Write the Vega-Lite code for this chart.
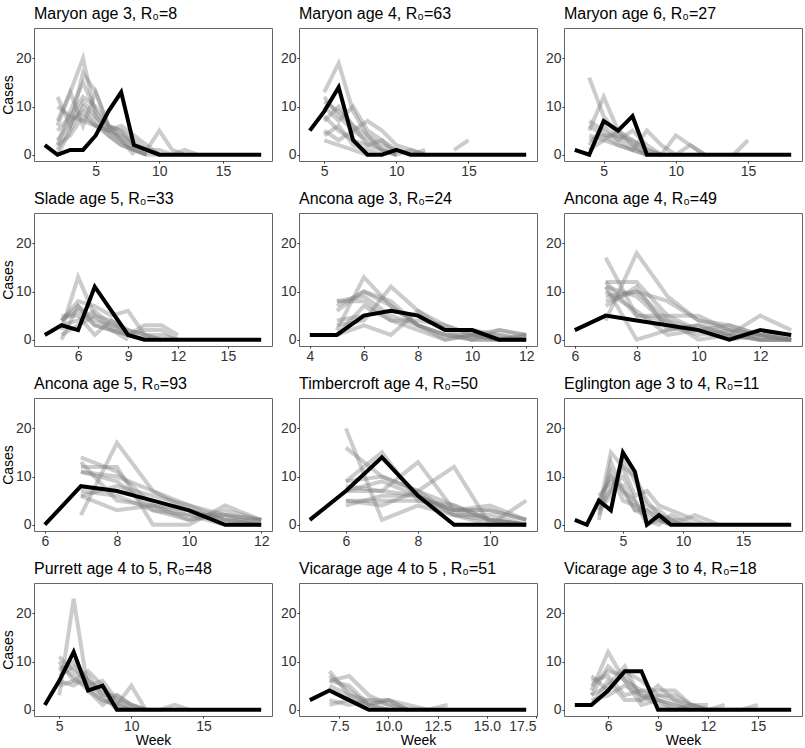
{
"$schema":"https://vega.github.io/schema/vega-lite/v6.json",
"padding":{"left":0,"top":5,"right":0,"bottom":0},
"datasets":{"d":[
{"p":1,"s":"o","w":1,"c":2},{"p":1,"s":"o","w":2,"c":0},{"p":1,"s":"o","w":3,"c":1},{"p":1,"s":"o","w":4,"c":1},{"p":1,"s":"o","w":5,"c":4},{"p":1,"s":"o","w":6,"c":9},{"p":1,"s":"o","w":7,"c":13},{"p":1,"s":"o","w":8,"c":2},{"p":1,"s":"o","w":9,"c":1},{"p":1,"s":"o","w":10,"c":0},{"p":1,"s":"o","w":11,"c":0},{"p":1,"s":"o","w":12,"c":0},{"p":1,"s":"o","w":13,"c":0},{"p":1,"s":"o","w":14,"c":0},{"p":1,"s":"o","w":15,"c":0},{"p":1,"s":"o","w":16,"c":0},{"p":1,"s":"o","w":17,"c":0},{"p":1,"s":"o","w":18,"c":0},
{"p":1,"s":"1","w":2,"c":7},{"p":1,"s":"1","w":3,"c":13},{"p":1,"s":"1","w":4,"c":20},{"p":1,"s":"1","w":5,"c":8},{"p":1,"s":"1","w":6,"c":5},{"p":1,"s":"1","w":7,"c":3},{"p":1,"s":"1","w":8,"c":1},{"p":1,"s":"1","w":9,"c":0},
{"p":1,"s":"2","w":2,"c":12},{"p":1,"s":"2","w":3,"c":6},{"p":1,"s":"2","w":4,"c":17},{"p":1,"s":"2","w":5,"c":13},{"p":1,"s":"2","w":6,"c":6},{"p":1,"s":"2","w":7,"c":4},{"p":1,"s":"2","w":8,"c":2},{"p":1,"s":"2","w":9,"c":1},{"p":1,"s":"2","w":10,"c":0},
{"p":1,"s":"3","w":2,"c":2},{"p":1,"s":"3","w":3,"c":9},{"p":1,"s":"3","w":4,"c":15},{"p":1,"s":"3","w":5,"c":9},{"p":1,"s":"3","w":6,"c":6},{"p":1,"s":"3","w":7,"c":5},{"p":1,"s":"3","w":8,"c":2},{"p":1,"s":"3","w":9,"c":1},{"p":1,"s":"3","w":10,"c":5},{"p":1,"s":"3","w":11,"c":1},{"p":1,"s":"3","w":12,"c":0},
{"p":1,"s":"4","w":2,"c":1},{"p":1,"s":"4","w":3,"c":6},{"p":1,"s":"4","w":4,"c":11},{"p":1,"s":"4","w":5,"c":8},{"p":1,"s":"4","w":6,"c":5},{"p":1,"s":"4","w":7,"c":3},{"p":1,"s":"4","w":8,"c":1},{"p":1,"s":"4","w":9,"c":0},
{"p":1,"s":"5","w":2,"c":0},{"p":1,"s":"5","w":3,"c":5},{"p":1,"s":"5","w":4,"c":10},{"p":1,"s":"5","w":5,"c":7},{"p":1,"s":"5","w":6,"c":4},{"p":1,"s":"5","w":7,"c":2},{"p":1,"s":"5","w":8,"c":1},{"p":1,"s":"5","w":9,"c":0},
{"p":1,"s":"6","w":2,"c":10},{"p":1,"s":"6","w":3,"c":8},{"p":1,"s":"6","w":4,"c":7},{"p":1,"s":"6","w":5,"c":6},{"p":1,"s":"6","w":6,"c":5},{"p":1,"s":"6","w":7,"c":6},{"p":1,"s":"6","w":8,"c":4},{"p":1,"s":"6","w":9,"c":2},{"p":1,"s":"6","w":10,"c":0},
{"p":1,"s":"7","w":2,"c":3},{"p":1,"s":"7","w":3,"c":7},{"p":1,"s":"7","w":4,"c":9},{"p":1,"s":"7","w":5,"c":6},{"p":1,"s":"7","w":6,"c":5},{"p":1,"s":"7","w":7,"c":4},{"p":1,"s":"7","w":8,"c":2},{"p":1,"s":"7","w":9,"c":1},{"p":1,"s":"7","w":10,"c":1},{"p":1,"s":"7","w":11,"c":0},{"p":1,"s":"7","w":12,"c":1},{"p":1,"s":"7","w":13,"c":0},
{"p":1,"s":"8","w":2,"c":5},{"p":1,"s":"8","w":3,"c":8},{"p":1,"s":"8","w":4,"c":12},{"p":1,"s":"8","w":5,"c":10},{"p":1,"s":"8","w":6,"c":6},{"p":1,"s":"8","w":7,"c":3},{"p":1,"s":"8","w":8,"c":0},
{"p":1,"s":"9","w":2,"c":2},{"p":1,"s":"9","w":3,"c":4},{"p":1,"s":"9","w":4,"c":8},{"p":1,"s":"9","w":5,"c":6},{"p":1,"s":"9","w":6,"c":4},{"p":1,"s":"9","w":7,"c":2},{"p":1,"s":"9","w":8,"c":1},{"p":1,"s":"9","w":9,"c":0},{"p":1,"s":"9","w":10,"c":0},
{"p":1,"s":"10","w":2,"c":6},{"p":1,"s":"10","w":3,"c":13},{"p":1,"s":"10","w":4,"c":6},{"p":1,"s":"10","w":5,"c":13},{"p":1,"s":"10","w":6,"c":6},{"p":1,"s":"10","w":7,"c":5},{"p":1,"s":"10","w":8,"c":3},{"p":1,"s":"10","w":9,"c":1},{"p":1,"s":"10","w":10,"c":0},

{"p":2,"s":"o","w":4,"c":5},{"p":2,"s":"o","w":5,"c":9},{"p":2,"s":"o","w":6,"c":14},{"p":2,"s":"o","w":7,"c":3},{"p":2,"s":"o","w":8,"c":0},{"p":2,"s":"o","w":9,"c":0},{"p":2,"s":"o","w":10,"c":1},{"p":2,"s":"o","w":11,"c":0},{"p":2,"s":"o","w":12,"c":0},{"p":2,"s":"o","w":13,"c":0},{"p":2,"s":"o","w":14,"c":0},{"p":2,"s":"o","w":15,"c":0},{"p":2,"s":"o","w":16,"c":0},{"p":2,"s":"o","w":17,"c":0},{"p":2,"s":"o","w":18,"c":0},{"p":2,"s":"o","w":19,"c":0},
{"p":2,"s":"1","w":5,"c":13},{"p":2,"s":"1","w":6,"c":19},{"p":2,"s":"1","w":7,"c":9},{"p":2,"s":"1","w":8,"c":4},{"p":2,"s":"1","w":9,"c":1},{"p":2,"s":"1","w":10,"c":0},
{"p":2,"s":"2","w":5,"c":12},{"p":2,"s":"2","w":6,"c":8},{"p":2,"s":"2","w":7,"c":5},{"p":2,"s":"2","w":8,"c":3},{"p":2,"s":"2","w":9,"c":1},{"p":2,"s":"2","w":10,"c":0},
{"p":2,"s":"3","w":5,"c":10},{"p":2,"s":"3","w":6,"c":7},{"p":2,"s":"3","w":7,"c":10},{"p":2,"s":"3","w":8,"c":5},{"p":2,"s":"3","w":9,"c":3},{"p":2,"s":"3","w":10,"c":1},{"p":2,"s":"3","w":11,"c":0},
{"p":2,"s":"4","w":5,"c":5},{"p":2,"s":"4","w":6,"c":3},{"p":2,"s":"4","w":7,"c":5},{"p":2,"s":"4","w":8,"c":7},{"p":2,"s":"4","w":9,"c":5},{"p":2,"s":"4","w":10,"c":2},{"p":2,"s":"4","w":11,"c":1},{"p":2,"s":"4","w":12,"c":0},
{"p":2,"s":"5","w":5,"c":8},{"p":2,"s":"5","w":6,"c":5},{"p":2,"s":"5","w":7,"c":3},{"p":2,"s":"5","w":8,"c":2},{"p":2,"s":"5","w":9,"c":1},{"p":2,"s":"5","w":10,"c":0},
{"p":2,"s":"6","w":5,"c":4},{"p":2,"s":"6","w":6,"c":6},{"p":2,"s":"6","w":7,"c":2},{"p":2,"s":"6","w":8,"c":1},{"p":2,"s":"6","w":9,"c":0},
{"p":2,"s":"7","w":5,"c":11},{"p":2,"s":"7","w":6,"c":9},{"p":2,"s":"7","w":7,"c":6},{"p":2,"s":"7","w":8,"c":4},{"p":2,"s":"7","w":9,"c":2},{"p":2,"s":"7","w":10,"c":1},{"p":2,"s":"7","w":11,"c":0},{"p":2,"s":"7","w":12,"c":1},
{"p":2,"s":"8","w":5,"c":3},{"p":2,"s":"8","w":6,"c":2},{"p":2,"s":"8","w":7,"c":1},{"p":2,"s":"8","w":8,"c":0},
{"p":2,"s":"9","w":5,"c":7},{"p":2,"s":"9","w":6,"c":10},{"p":2,"s":"9","w":7,"c":6},{"p":2,"s":"9","w":8,"c":2},{"p":2,"s":"9","w":9,"c":3},{"p":2,"s":"9","w":10,"c":0},{"p":2,"s":"9","w":11,"c":1},{"p":2,"s":"9","w":12,"c":0},
{"p":2,"s":"10","w":14,"c":1},{"p":2,"s":"10","w":15,"c":3},

{"p":3,"s":"o","w":3,"c":1},{"p":3,"s":"o","w":4,"c":0},{"p":3,"s":"o","w":5,"c":7},{"p":3,"s":"o","w":6,"c":5},{"p":3,"s":"o","w":7,"c":8},{"p":3,"s":"o","w":8,"c":0},{"p":3,"s":"o","w":9,"c":0},{"p":3,"s":"o","w":10,"c":0},{"p":3,"s":"o","w":11,"c":0},{"p":3,"s":"o","w":12,"c":0},{"p":3,"s":"o","w":13,"c":0},{"p":3,"s":"o","w":14,"c":0},{"p":3,"s":"o","w":15,"c":0},{"p":3,"s":"o","w":16,"c":0},{"p":3,"s":"o","w":17,"c":0},{"p":3,"s":"o","w":18,"c":0},
{"p":3,"s":"1","w":4,"c":16},{"p":3,"s":"1","w":5,"c":8},{"p":3,"s":"1","w":6,"c":4},{"p":3,"s":"1","w":7,"c":2},{"p":3,"s":"1","w":8,"c":0},
{"p":3,"s":"2","w":4,"c":5},{"p":3,"s":"2","w":5,"c":12},{"p":3,"s":"2","w":6,"c":5},{"p":3,"s":"2","w":7,"c":3},{"p":3,"s":"2","w":8,"c":1},{"p":3,"s":"2","w":9,"c":0},
{"p":3,"s":"3","w":4,"c":7},{"p":3,"s":"3","w":5,"c":5},{"p":3,"s":"3","w":6,"c":3},{"p":3,"s":"3","w":7,"c":5},{"p":3,"s":"3","w":8,"c":2},{"p":3,"s":"3","w":9,"c":0},
{"p":3,"s":"4","w":4,"c":3},{"p":3,"s":"4","w":5,"c":4},{"p":3,"s":"4","w":6,"c":2},{"p":3,"s":"4","w":7,"c":1},{"p":3,"s":"4","w":8,"c":0},
{"p":3,"s":"5","w":4,"c":2},{"p":3,"s":"5","w":5,"c":6},{"p":3,"s":"5","w":6,"c":3},{"p":3,"s":"5","w":7,"c":1},{"p":3,"s":"5","w":8,"c":5},{"p":3,"s":"5","w":9,"c":2},{"p":3,"s":"5","w":10,"c":0},
{"p":3,"s":"6","w":4,"c":4},{"p":3,"s":"6","w":5,"c":3},{"p":3,"s":"6","w":6,"c":2},{"p":3,"s":"6","w":7,"c":1},{"p":3,"s":"6","w":8,"c":0},
{"p":3,"s":"7","w":4,"c":6},{"p":3,"s":"7","w":5,"c":4},{"p":3,"s":"7","w":6,"c":4},{"p":3,"s":"7","w":7,"c":3},{"p":3,"s":"7","w":8,"c":1},{"p":3,"s":"7","w":9,"c":0},{"p":3,"s":"7","w":10,"c":4},{"p":3,"s":"7","w":11,"c":2},{"p":3,"s":"7","w":12,"c":0},
{"p":3,"s":"8","w":4,"c":1},{"p":3,"s":"8","w":5,"c":3},{"p":3,"s":"8","w":6,"c":5},{"p":3,"s":"8","w":7,"c":2},{"p":3,"s":"8","w":8,"c":0},{"p":3,"s":"8","w":9,"c":0},{"p":3,"s":"8","w":10,"c":0},{"p":3,"s":"8","w":11,"c":2},{"p":3,"s":"8","w":12,"c":0},
{"p":3,"s":"9","w":14,"c":0},{"p":3,"s":"9","w":15,"c":3},

{"p":4,"s":"o","w":4,"c":1},{"p":4,"s":"o","w":5,"c":3},{"p":4,"s":"o","w":6,"c":2},{"p":4,"s":"o","w":7,"c":11},{"p":4,"s":"o","w":8,"c":6},{"p":4,"s":"o","w":9,"c":1},{"p":4,"s":"o","w":10,"c":0},{"p":4,"s":"o","w":11,"c":0},{"p":4,"s":"o","w":12,"c":0},{"p":4,"s":"o","w":13,"c":0},{"p":4,"s":"o","w":14,"c":0},{"p":4,"s":"o","w":15,"c":0},{"p":4,"s":"o","w":16,"c":0},{"p":4,"s":"o","w":17,"c":0},
{"p":4,"s":"1","w":5,"c":2},{"p":4,"s":"1","w":6,"c":13},{"p":4,"s":"1","w":7,"c":5},{"p":4,"s":"1","w":8,"c":4},{"p":4,"s":"1","w":9,"c":1},{"p":4,"s":"1","w":10,"c":0},
{"p":4,"s":"2","w":5,"c":4},{"p":4,"s":"2","w":6,"c":8},{"p":4,"s":"2","w":7,"c":7},{"p":4,"s":"2","w":8,"c":5},{"p":4,"s":"2","w":9,"c":6},{"p":4,"s":"2","w":10,"c":1},{"p":4,"s":"2","w":11,"c":0},
{"p":4,"s":"3","w":5,"c":0},{"p":4,"s":"3","w":6,"c":7},{"p":4,"s":"3","w":7,"c":3},{"p":4,"s":"3","w":8,"c":2},{"p":4,"s":"3","w":9,"c":1},{"p":4,"s":"3","w":10,"c":3},{"p":4,"s":"3","w":11,"c":3},{"p":4,"s":"3","w":12,"c":1},
{"p":4,"s":"4","w":5,"c":5},{"p":4,"s":"4","w":6,"c":5},{"p":4,"s":"4","w":7,"c":1},{"p":4,"s":"4","w":8,"c":4},{"p":4,"s":"4","w":9,"c":2},{"p":4,"s":"4","w":10,"c":1},{"p":4,"s":"4","w":11,"c":1},{"p":4,"s":"4","w":12,"c":0},
{"p":4,"s":"5","w":5,"c":3},{"p":4,"s":"5","w":6,"c":4},{"p":4,"s":"5","w":7,"c":6},{"p":4,"s":"5","w":8,"c":3},{"p":4,"s":"5","w":9,"c":1},{"p":4,"s":"5","w":10,"c":0},
{"p":4,"s":"6","w":5,"c":4},{"p":4,"s":"6","w":6,"c":6},{"p":4,"s":"6","w":7,"c":3},{"p":4,"s":"6","w":8,"c":2},{"p":4,"s":"6","w":9,"c":0},
{"p":4,"s":"7","w":5,"c":1},{"p":4,"s":"7","w":6,"c":3},{"p":4,"s":"7","w":7,"c":5},{"p":4,"s":"7","w":8,"c":2},{"p":4,"s":"7","w":9,"c":1},{"p":4,"s":"7","w":10,"c":2},{"p":4,"s":"7","w":11,"c":2},{"p":4,"s":"7","w":12,"c":0},
{"p":4,"s":"8","w":5,"c":4},{"p":4,"s":"8","w":6,"c":7},{"p":4,"s":"8","w":7,"c":4},{"p":4,"s":"8","w":8,"c":3},{"p":4,"s":"8","w":9,"c":2},{"p":4,"s":"8","w":10,"c":1},{"p":4,"s":"8","w":11,"c":0},

{"p":5,"s":"o","w":4,"c":1},{"p":5,"s":"o","w":5,"c":1},{"p":5,"s":"o","w":6,"c":5},{"p":5,"s":"o","w":7,"c":6},{"p":5,"s":"o","w":8,"c":5},{"p":5,"s":"o","w":9,"c":2},{"p":5,"s":"o","w":10,"c":2},{"p":5,"s":"o","w":11,"c":0},{"p":5,"s":"o","w":12,"c":0},
{"p":5,"s":"1","w":5,"c":2},{"p":5,"s":"1","w":6,"c":13},{"p":5,"s":"1","w":7,"c":7},{"p":5,"s":"1","w":8,"c":3},{"p":5,"s":"1","w":9,"c":1},{"p":5,"s":"1","w":10,"c":1},{"p":5,"s":"1","w":11,"c":0},{"p":5,"s":"1","w":12,"c":1},
{"p":5,"s":"2","w":5,"c":7},{"p":5,"s":"2","w":6,"c":10},{"p":5,"s":"2","w":7,"c":8},{"p":5,"s":"2","w":8,"c":3},{"p":5,"s":"2","w":9,"c":1},{"p":5,"s":"2","w":10,"c":0},{"p":5,"s":"2","w":11,"c":0},{"p":5,"s":"2","w":12,"c":0},
{"p":5,"s":"3","w":5,"c":3},{"p":5,"s":"3","w":6,"c":4},{"p":5,"s":"3","w":7,"c":11},{"p":5,"s":"3","w":8,"c":6},{"p":5,"s":"3","w":9,"c":2},{"p":5,"s":"3","w":10,"c":2},{"p":5,"s":"3","w":11,"c":1},{"p":5,"s":"3","w":12,"c":0},
{"p":5,"s":"4","w":5,"c":1},{"p":5,"s":"4","w":6,"c":3},{"p":5,"s":"4","w":7,"c":1},{"p":5,"s":"4","w":8,"c":6},{"p":5,"s":"4","w":9,"c":3},{"p":5,"s":"4","w":10,"c":1},{"p":5,"s":"4","w":11,"c":2},{"p":5,"s":"4","w":12,"c":1},
{"p":5,"s":"5","w":5,"c":8},{"p":5,"s":"5","w":6,"c":9},{"p":5,"s":"5","w":7,"c":5},{"p":5,"s":"5","w":8,"c":3},{"p":5,"s":"5","w":9,"c":1},{"p":5,"s":"5","w":10,"c":0},{"p":5,"s":"5","w":11,"c":2},{"p":5,"s":"5","w":12,"c":1},
{"p":5,"s":"6","w":5,"c":1},{"p":5,"s":"6","w":6,"c":7},{"p":5,"s":"6","w":7,"c":4},{"p":5,"s":"6","w":8,"c":2},{"p":5,"s":"6","w":9,"c":0},{"p":5,"s":"6","w":10,"c":1},{"p":5,"s":"6","w":11,"c":0},{"p":5,"s":"6","w":12,"c":0},
{"p":5,"s":"7","w":5,"c":4},{"p":5,"s":"7","w":6,"c":5},{"p":5,"s":"7","w":7,"c":6},{"p":5,"s":"7","w":8,"c":5},{"p":5,"s":"7","w":9,"c":2},{"p":5,"s":"7","w":10,"c":0},{"p":5,"s":"7","w":11,"c":0},{"p":5,"s":"7","w":12,"c":0},
{"p":5,"s":"8","w":5,"c":6},{"p":5,"s":"8","w":6,"c":10},{"p":5,"s":"8","w":7,"c":7},{"p":5,"s":"8","w":8,"c":3},{"p":5,"s":"8","w":9,"c":0},{"p":5,"s":"8","w":10,"c":1},{"p":5,"s":"8","w":11,"c":0},{"p":5,"s":"8","w":12,"c":1},
{"p":5,"s":"9","w":5,"c":8},{"p":5,"s":"9","w":6,"c":8},{"p":5,"s":"9","w":7,"c":4},{"p":5,"s":"9","w":8,"c":4},{"p":5,"s":"9","w":9,"c":3},{"p":5,"s":"9","w":10,"c":1},{"p":5,"s":"9","w":11,"c":1},{"p":5,"s":"9","w":12,"c":0},

{"p":6,"s":"o","w":6,"c":2},{"p":6,"s":"o","w":7,"c":5},{"p":6,"s":"o","w":8,"c":4},{"p":6,"s":"o","w":9,"c":3},{"p":6,"s":"o","w":10,"c":2},{"p":6,"s":"o","w":11,"c":0},{"p":6,"s":"o","w":12,"c":2},{"p":6,"s":"o","w":13,"c":1},
{"p":6,"s":"1","w":7,"c":17},{"p":6,"s":"1","w":8,"c":5},{"p":6,"s":"1","w":9,"c":5},{"p":6,"s":"1","w":10,"c":2},{"p":6,"s":"1","w":11,"c":1},{"p":6,"s":"1","w":12,"c":0},{"p":6,"s":"1","w":13,"c":0},
{"p":6,"s":"2","w":7,"c":4},{"p":6,"s":"2","w":8,"c":18},{"p":6,"s":"2","w":9,"c":9},{"p":6,"s":"2","w":10,"c":4},{"p":6,"s":"2","w":11,"c":2},{"p":6,"s":"2","w":12,"c":0},{"p":6,"s":"2","w":13,"c":0},
{"p":6,"s":"3","w":7,"c":12},{"p":6,"s":"3","w":8,"c":12},{"p":6,"s":"3","w":9,"c":5},{"p":6,"s":"3","w":10,"c":5},{"p":6,"s":"3","w":11,"c":2},{"p":6,"s":"3","w":12,"c":1},{"p":6,"s":"3","w":13,"c":0},
{"p":6,"s":"4","w":7,"c":11},{"p":6,"s":"4","w":8,"c":0},{"p":6,"s":"4","w":9,"c":2},{"p":6,"s":"4","w":10,"c":3},{"p":6,"s":"4","w":11,"c":1},{"p":6,"s":"4","w":12,"c":5},{"p":6,"s":"4","w":13,"c":2},
{"p":6,"s":"5","w":7,"c":9},{"p":6,"s":"5","w":8,"c":10},{"p":6,"s":"5","w":9,"c":8},{"p":6,"s":"5","w":10,"c":4},{"p":6,"s":"5","w":11,"c":3},{"p":6,"s":"5","w":12,"c":1},{"p":6,"s":"5","w":13,"c":0},
{"p":6,"s":"6","w":7,"c":8},{"p":6,"s":"6","w":8,"c":10},{"p":6,"s":"6","w":9,"c":4},{"p":6,"s":"6","w":10,"c":0},{"p":6,"s":"6","w":11,"c":1},{"p":6,"s":"6","w":12,"c":0},{"p":6,"s":"6","w":13,"c":0},
{"p":6,"s":"7","w":7,"c":10},{"p":6,"s":"7","w":8,"c":6},{"p":6,"s":"7","w":9,"c":1},{"p":6,"s":"7","w":10,"c":2},{"p":6,"s":"7","w":11,"c":0},{"p":6,"s":"7","w":12,"c":1},{"p":6,"s":"7","w":13,"c":0},
{"p":6,"s":"8","w":7,"c":11},{"p":6,"s":"8","w":8,"c":9},{"p":6,"s":"8","w":9,"c":3},{"p":6,"s":"8","w":10,"c":1},{"p":6,"s":"8","w":11,"c":2},{"p":6,"s":"8","w":12,"c":1},{"p":6,"s":"8","w":13,"c":1},
{"p":6,"s":"9","w":7,"c":7},{"p":6,"s":"9","w":8,"c":11},{"p":6,"s":"9","w":9,"c":2},{"p":6,"s":"9","w":10,"c":3},{"p":6,"s":"9","w":11,"c":1},{"p":6,"s":"9","w":12,"c":0},{"p":6,"s":"9","w":13,"c":0},
{"p":6,"s":"10","w":7,"c":12},{"p":6,"s":"10","w":8,"c":5},{"p":6,"s":"10","w":9,"c":4},{"p":6,"s":"10","w":10,"c":2},{"p":6,"s":"10","w":11,"c":3},{"p":6,"s":"10","w":12,"c":1},{"p":6,"s":"10","w":13,"c":0},

{"p":7,"s":"o","w":6,"c":0},{"p":7,"s":"o","w":7,"c":8},{"p":7,"s":"o","w":8,"c":7},{"p":7,"s":"o","w":9,"c":5},{"p":7,"s":"o","w":10,"c":3},{"p":7,"s":"o","w":11,"c":0},{"p":7,"s":"o","w":12,"c":0},
{"p":7,"s":"1","w":7,"c":14},{"p":7,"s":"1","w":8,"c":11},{"p":7,"s":"1","w":9,"c":4},{"p":7,"s":"1","w":10,"c":2},{"p":7,"s":"1","w":11,"c":2},{"p":7,"s":"1","w":12,"c":1},
{"p":7,"s":"2","w":7,"c":2},{"p":7,"s":"2","w":8,"c":17},{"p":7,"s":"2","w":9,"c":7},{"p":7,"s":"2","w":10,"c":4},{"p":7,"s":"2","w":11,"c":1},{"p":7,"s":"2","w":12,"c":0},
{"p":7,"s":"3","w":7,"c":12},{"p":7,"s":"3","w":8,"c":12},{"p":7,"s":"3","w":9,"c":0},{"p":7,"s":"3","w":10,"c":0},{"p":7,"s":"3","w":11,"c":4},{"p":7,"s":"3","w":12,"c":1},
{"p":7,"s":"4","w":7,"c":11},{"p":7,"s":"4","w":8,"c":10},{"p":7,"s":"4","w":9,"c":7},{"p":7,"s":"4","w":10,"c":3},{"p":7,"s":"4","w":11,"c":1},{"p":7,"s":"4","w":12,"c":0},
{"p":7,"s":"5","w":7,"c":6},{"p":7,"s":"5","w":8,"c":3},{"p":7,"s":"5","w":9,"c":4},{"p":7,"s":"5","w":10,"c":3},{"p":7,"s":"5","w":11,"c":1},{"p":7,"s":"5","w":12,"c":1},
{"p":7,"s":"6","w":7,"c":13},{"p":7,"s":"6","w":8,"c":5},{"p":7,"s":"6","w":9,"c":4},{"p":7,"s":"6","w":10,"c":1},{"p":7,"s":"6","w":11,"c":3},{"p":7,"s":"6","w":12,"c":1},
{"p":7,"s":"7","w":7,"c":7},{"p":7,"s":"7","w":8,"c":6},{"p":7,"s":"7","w":9,"c":3},{"p":7,"s":"7","w":10,"c":2},{"p":7,"s":"7","w":11,"c":0},{"p":7,"s":"7","w":12,"c":0},
{"p":7,"s":"8","w":7,"c":11},{"p":7,"s":"8","w":8,"c":9},{"p":7,"s":"8","w":9,"c":3},{"p":7,"s":"8","w":10,"c":1},{"p":7,"s":"8","w":11,"c":2},{"p":7,"s":"8","w":12,"c":0},
{"p":7,"s":"9","w":7,"c":6},{"p":7,"s":"9","w":8,"c":8},{"p":7,"s":"9","w":9,"c":6},{"p":7,"s":"9","w":10,"c":4},{"p":7,"s":"9","w":11,"c":2},{"p":7,"s":"9","w":12,"c":1},

{"p":8,"s":"o","w":5,"c":1},{"p":8,"s":"o","w":6,"c":7},{"p":8,"s":"o","w":7,"c":14},{"p":8,"s":"o","w":8,"c":6},{"p":8,"s":"o","w":9,"c":0},{"p":8,"s":"o","w":10,"c":0},{"p":8,"s":"o","w":11,"c":0},
{"p":8,"s":"1","w":6,"c":20},{"p":8,"s":"1","w":7,"c":1},{"p":8,"s":"1","w":8,"c":4},{"p":8,"s":"1","w":9,"c":2},{"p":8,"s":"1","w":10,"c":1},{"p":8,"s":"1","w":11,"c":0},
{"p":8,"s":"2","w":6,"c":16},{"p":8,"s":"2","w":7,"c":10},{"p":8,"s":"2","w":8,"c":7},{"p":8,"s":"2","w":9,"c":4},{"p":8,"s":"2","w":10,"c":1},{"p":8,"s":"2","w":11,"c":0},
{"p":8,"s":"3","w":6,"c":9},{"p":8,"s":"3","w":7,"c":15},{"p":8,"s":"3","w":8,"c":5},{"p":8,"s":"3","w":9,"c":3},{"p":8,"s":"3","w":10,"c":3},{"p":8,"s":"3","w":11,"c":1},
{"p":8,"s":"4","w":6,"c":7},{"p":8,"s":"4","w":7,"c":7},{"p":8,"s":"4","w":8,"c":13},{"p":8,"s":"4","w":9,"c":3},{"p":8,"s":"4","w":10,"c":1},{"p":8,"s":"4","w":11,"c":0},
{"p":8,"s":"5","w":6,"c":5},{"p":8,"s":"5","w":7,"c":4},{"p":8,"s":"5","w":8,"c":7},{"p":8,"s":"5","w":9,"c":12},{"p":8,"s":"5","w":10,"c":0},{"p":8,"s":"5","w":11,"c":5},
{"p":8,"s":"6","w":6,"c":4},{"p":8,"s":"6","w":7,"c":6},{"p":8,"s":"6","w":8,"c":6},{"p":8,"s":"6","w":9,"c":3},{"p":8,"s":"6","w":10,"c":4},{"p":8,"s":"6","w":11,"c":1},
{"p":8,"s":"7","w":6,"c":9},{"p":8,"s":"7","w":7,"c":10},{"p":8,"s":"7","w":8,"c":7},{"p":8,"s":"7","w":9,"c":2},{"p":8,"s":"7","w":10,"c":2},{"p":8,"s":"7","w":11,"c":0},
{"p":8,"s":"8","w":6,"c":8},{"p":8,"s":"8","w":7,"c":7},{"p":8,"s":"8","w":8,"c":6},{"p":8,"s":"8","w":9,"c":3},{"p":8,"s":"8","w":10,"c":3},{"p":8,"s":"8","w":11,"c":1},
{"p":8,"s":"9","w":6,"c":5},{"p":8,"s":"9","w":7,"c":5},{"p":8,"s":"9","w":8,"c":5},{"p":8,"s":"9","w":9,"c":4},{"p":8,"s":"9","w":10,"c":1},{"p":8,"s":"9","w":11,"c":0},
{"p":8,"s":"10","w":6,"c":7},{"p":8,"s":"10","w":7,"c":9},{"p":8,"s":"10","w":8,"c":6},{"p":8,"s":"10","w":9,"c":2},{"p":8,"s":"10","w":10,"c":0},{"p":8,"s":"10","w":11,"c":0},

{"p":9,"s":"o","w":1,"c":1},{"p":9,"s":"o","w":2,"c":0},{"p":9,"s":"o","w":3,"c":5},{"p":9,"s":"o","w":4,"c":3},{"p":9,"s":"o","w":5,"c":15},{"p":9,"s":"o","w":6,"c":11},{"p":9,"s":"o","w":7,"c":0},{"p":9,"s":"o","w":8,"c":2},{"p":9,"s":"o","w":9,"c":0},{"p":9,"s":"o","w":10,"c":0},{"p":9,"s":"o","w":11,"c":0},{"p":9,"s":"o","w":12,"c":0},{"p":9,"s":"o","w":13,"c":0},{"p":9,"s":"o","w":14,"c":0},{"p":9,"s":"o","w":15,"c":0},{"p":9,"s":"o","w":16,"c":0},{"p":9,"s":"o","w":17,"c":0},{"p":9,"s":"o","w":18,"c":0},{"p":9,"s":"o","w":19,"c":0},
{"p":9,"s":"1","w":3,"c":3},{"p":9,"s":"1","w":4,"c":15},{"p":9,"s":"1","w":5,"c":12},{"p":9,"s":"1","w":6,"c":10},{"p":9,"s":"1","w":7,"c":5},{"p":9,"s":"1","w":8,"c":2},{"p":9,"s":"1","w":9,"c":1},{"p":9,"s":"1","w":10,"c":0},
{"p":9,"s":"2","w":3,"c":4},{"p":9,"s":"2","w":4,"c":7},{"p":9,"s":"2","w":5,"c":12},{"p":9,"s":"2","w":6,"c":6},{"p":9,"s":"2","w":7,"c":7},{"p":9,"s":"2","w":8,"c":4},{"p":9,"s":"2","w":9,"c":3},{"p":9,"s":"2","w":10,"c":2},{"p":9,"s":"2","w":11,"c":1},{"p":9,"s":"2","w":12,"c":0},
{"p":9,"s":"3","w":3,"c":5},{"p":9,"s":"3","w":4,"c":10},{"p":9,"s":"3","w":5,"c":7},{"p":9,"s":"3","w":6,"c":5},{"p":9,"s":"3","w":7,"c":1},{"p":9,"s":"3","w":8,"c":0},{"p":9,"s":"3","w":9,"c":2},{"p":9,"s":"3","w":10,"c":1},{"p":9,"s":"3","w":11,"c":2},{"p":9,"s":"3","w":12,"c":1},{"p":9,"s":"3","w":13,"c":0},
{"p":9,"s":"4","w":3,"c":1},{"p":9,"s":"4","w":4,"c":13},{"p":9,"s":"4","w":5,"c":7},{"p":9,"s":"4","w":6,"c":3},{"p":9,"s":"4","w":7,"c":3},{"p":9,"s":"4","w":8,"c":1},{"p":9,"s":"4","w":9,"c":0},
{"p":9,"s":"5","w":3,"c":2},{"p":9,"s":"5","w":4,"c":8},{"p":9,"s":"5","w":5,"c":10},{"p":9,"s":"5","w":6,"c":5},{"p":9,"s":"5","w":7,"c":0},{"p":9,"s":"5","w":8,"c":1},{"p":9,"s":"5","w":9,"c":0},
{"p":9,"s":"6","w":3,"c":4},{"p":9,"s":"6","w":4,"c":11},{"p":9,"s":"6","w":5,"c":5},{"p":9,"s":"6","w":6,"c":4},{"p":9,"s":"6","w":7,"c":3},{"p":9,"s":"6","w":8,"c":2},{"p":9,"s":"6","w":9,"c":1},{"p":9,"s":"6","w":10,"c":0},
{"p":9,"s":"7","w":3,"c":6},{"p":9,"s":"7","w":4,"c":9},{"p":9,"s":"7","w":5,"c":8},{"p":9,"s":"7","w":6,"c":3},{"p":9,"s":"7","w":7,"c":2},{"p":9,"s":"7","w":8,"c":1},{"p":9,"s":"7","w":9,"c":0},
{"p":9,"s":"8","w":3,"c":3},{"p":9,"s":"8","w":4,"c":6},{"p":9,"s":"8","w":5,"c":14},{"p":9,"s":"8","w":6,"c":9},{"p":9,"s":"8","w":7,"c":4},{"p":9,"s":"8","w":8,"c":3},{"p":9,"s":"8","w":9,"c":1},{"p":9,"s":"8","w":10,"c":1},{"p":9,"s":"8","w":11,"c":0},

{"p":10,"s":"o","w":4,"c":1},{"p":10,"s":"o","w":5,"c":6},{"p":10,"s":"o","w":6,"c":12},{"p":10,"s":"o","w":7,"c":4},{"p":10,"s":"o","w":8,"c":5},{"p":10,"s":"o","w":9,"c":0},{"p":10,"s":"o","w":10,"c":0},{"p":10,"s":"o","w":11,"c":0},{"p":10,"s":"o","w":12,"c":0},{"p":10,"s":"o","w":13,"c":0},{"p":10,"s":"o","w":14,"c":0},{"p":10,"s":"o","w":15,"c":0},{"p":10,"s":"o","w":16,"c":0},{"p":10,"s":"o","w":17,"c":0},{"p":10,"s":"o","w":18,"c":0},{"p":10,"s":"o","w":19,"c":0},
{"p":10,"s":"1","w":5,"c":3},{"p":10,"s":"1","w":6,"c":23},{"p":10,"s":"1","w":7,"c":4},{"p":10,"s":"1","w":8,"c":2},{"p":10,"s":"1","w":9,"c":1},{"p":10,"s":"1","w":10,"c":5},{"p":10,"s":"1","w":11,"c":0},
{"p":10,"s":"2","w":5,"c":11},{"p":10,"s":"2","w":6,"c":8},{"p":10,"s":"2","w":7,"c":6},{"p":10,"s":"2","w":8,"c":3},{"p":10,"s":"2","w":9,"c":3},{"p":10,"s":"2","w":10,"c":1},{"p":10,"s":"2","w":11,"c":0},
{"p":10,"s":"3","w":5,"c":10},{"p":10,"s":"3","w":6,"c":6},{"p":10,"s":"3","w":7,"c":5},{"p":10,"s":"3","w":8,"c":6},{"p":10,"s":"3","w":9,"c":2},{"p":10,"s":"3","w":10,"c":0},
{"p":10,"s":"4","w":5,"c":7},{"p":10,"s":"4","w":6,"c":9},{"p":10,"s":"4","w":7,"c":5},{"p":10,"s":"4","w":8,"c":2},{"p":10,"s":"4","w":9,"c":1},{"p":10,"s":"4","w":10,"c":0},
{"p":10,"s":"5","w":5,"c":6},{"p":10,"s":"5","w":6,"c":5},{"p":10,"s":"5","w":7,"c":7},{"p":10,"s":"5","w":8,"c":3},{"p":10,"s":"5","w":9,"c":0},{"p":10,"s":"5","w":10,"c":0},
{"p":10,"s":"6","w":5,"c":8},{"p":10,"s":"6","w":6,"c":10},{"p":10,"s":"6","w":7,"c":6},{"p":10,"s":"6","w":8,"c":4},{"p":10,"s":"6","w":9,"c":2},{"p":10,"s":"6","w":10,"c":1},{"p":10,"s":"6","w":11,"c":0},{"p":10,"s":"6","w":12,"c":0},{"p":10,"s":"6","w":13,"c":1},{"p":10,"s":"6","w":14,"c":0},
{"p":10,"s":"7","w":5,"c":9},{"p":10,"s":"7","w":6,"c":7},{"p":10,"s":"7","w":7,"c":4},{"p":10,"s":"7","w":8,"c":1},{"p":10,"s":"7","w":9,"c":3},{"p":10,"s":"7","w":10,"c":1},{"p":10,"s":"7","w":11,"c":0},
{"p":10,"s":"8","w":5,"c":5},{"p":10,"s":"8","w":6,"c":6},{"p":10,"s":"8","w":7,"c":8},{"p":10,"s":"8","w":8,"c":5},{"p":10,"s":"8","w":9,"c":1},{"p":10,"s":"8","w":10,"c":0},

{"p":11,"s":"o","w":6,"c":2},{"p":11,"s":"o","w":7,"c":4},{"p":11,"s":"o","w":8,"c":2},{"p":11,"s":"o","w":9,"c":0},{"p":11,"s":"o","w":10,"c":0},{"p":11,"s":"o","w":11,"c":0},{"p":11,"s":"o","w":12,"c":0},{"p":11,"s":"o","w":13,"c":0},{"p":11,"s":"o","w":14,"c":0},{"p":11,"s":"o","w":15,"c":0},{"p":11,"s":"o","w":16,"c":0},{"p":11,"s":"o","w":17,"c":0},
{"p":11,"s":"1","w":7,"c":8},{"p":11,"s":"1","w":8,"c":3},{"p":11,"s":"1","w":9,"c":1},{"p":11,"s":"1","w":10,"c":0},
{"p":11,"s":"2","w":7,"c":6},{"p":11,"s":"2","w":8,"c":7},{"p":11,"s":"2","w":9,"c":3},{"p":11,"s":"2","w":10,"c":1},{"p":11,"s":"2","w":11,"c":0},
{"p":11,"s":"3","w":7,"c":7},{"p":11,"s":"3","w":8,"c":4},{"p":11,"s":"3","w":9,"c":1},{"p":11,"s":"3","w":10,"c":2},{"p":11,"s":"3","w":11,"c":0},
{"p":11,"s":"4","w":7,"c":2},{"p":11,"s":"4","w":8,"c":1},{"p":11,"s":"4","w":9,"c":2},{"p":11,"s":"4","w":10,"c":1},{"p":11,"s":"4","w":11,"c":0},{"p":11,"s":"4","w":12,"c":0},{"p":11,"s":"4","w":13,"c":1},
{"p":11,"s":"5","w":7,"c":5},{"p":11,"s":"5","w":8,"c":3},{"p":11,"s":"5","w":9,"c":2},{"p":11,"s":"5","w":10,"c":2},{"p":11,"s":"5","w":11,"c":1},{"p":11,"s":"5","w":12,"c":0},
{"p":11,"s":"6","w":7,"c":1},{"p":11,"s":"6","w":8,"c":2},{"p":11,"s":"6","w":9,"c":1},{"p":11,"s":"6","w":10,"c":0},
{"p":11,"s":"7","w":7,"c":4},{"p":11,"s":"7","w":8,"c":2},{"p":11,"s":"7","w":9,"c":0},
{"p":11,"s":"8","w":7,"c":6},{"p":11,"s":"8","w":8,"c":5},{"p":11,"s":"8","w":9,"c":1},{"p":11,"s":"8","w":10,"c":2},{"p":11,"s":"8","w":11,"c":0},

{"p":12,"s":"o","w":4,"c":1},{"p":12,"s":"o","w":5,"c":1},{"p":12,"s":"o","w":6,"c":4},{"p":12,"s":"o","w":7,"c":8},{"p":12,"s":"o","w":8,"c":8},{"p":12,"s":"o","w":9,"c":0},{"p":12,"s":"o","w":10,"c":0},{"p":12,"s":"o","w":11,"c":0},{"p":12,"s":"o","w":12,"c":0},{"p":12,"s":"o","w":13,"c":0},{"p":12,"s":"o","w":14,"c":0},{"p":12,"s":"o","w":15,"c":0},{"p":12,"s":"o","w":16,"c":0},{"p":12,"s":"o","w":17,"c":0},
{"p":12,"s":"1","w":5,"c":4},{"p":12,"s":"1","w":6,"c":12},{"p":12,"s":"1","w":7,"c":6},{"p":12,"s":"1","w":8,"c":4},{"p":12,"s":"1","w":9,"c":2},{"p":12,"s":"1","w":10,"c":1},{"p":12,"s":"1","w":11,"c":0},
{"p":12,"s":"2","w":5,"c":3},{"p":12,"s":"2","w":6,"c":9},{"p":12,"s":"2","w":7,"c":6},{"p":12,"s":"2","w":8,"c":1},{"p":12,"s":"2","w":9,"c":2},{"p":12,"s":"2","w":10,"c":0},
{"p":12,"s":"3","w":5,"c":6},{"p":12,"s":"3","w":6,"c":7},{"p":12,"s":"3","w":7,"c":3},{"p":12,"s":"3","w":8,"c":4},{"p":12,"s":"3","w":9,"c":4},{"p":12,"s":"3","w":10,"c":4},{"p":12,"s":"3","w":11,"c":1},{"p":12,"s":"3","w":12,"c":0},
{"p":12,"s":"4","w":5,"c":7},{"p":12,"s":"4","w":6,"c":4},{"p":12,"s":"4","w":7,"c":8},{"p":12,"s":"4","w":8,"c":6},{"p":12,"s":"4","w":9,"c":3},{"p":12,"s":"4","w":10,"c":3},{"p":12,"s":"4","w":11,"c":1},{"p":12,"s":"4","w":12,"c":0},{"p":12,"s":"4","w":13,"c":1},
{"p":12,"s":"5","w":5,"c":1},{"p":12,"s":"5","w":6,"c":6},{"p":12,"s":"5","w":7,"c":2},{"p":12,"s":"5","w":8,"c":2},{"p":12,"s":"5","w":9,"c":5},{"p":12,"s":"5","w":10,"c":2},{"p":12,"s":"5","w":11,"c":0},
{"p":12,"s":"6","w":5,"c":5},{"p":12,"s":"6","w":6,"c":8},{"p":12,"s":"6","w":7,"c":7},{"p":12,"s":"6","w":8,"c":3},{"p":12,"s":"6","w":9,"c":1},{"p":12,"s":"6","w":10,"c":0},{"p":12,"s":"6","w":11,"c":1},{"p":12,"s":"6","w":12,"c":0},{"p":12,"s":"6","w":13,"c":0},{"p":12,"s":"6","w":14,"c":0},{"p":12,"s":"6","w":15,"c":1},
{"p":12,"s":"7","w":5,"c":2},{"p":12,"s":"7","w":6,"c":3},{"p":12,"s":"7","w":7,"c":5},{"p":12,"s":"7","w":8,"c":3},{"p":12,"s":"7","w":9,"c":2},{"p":12,"s":"7","w":10,"c":1},{"p":12,"s":"7","w":11,"c":0},
{"p":12,"s":"8","w":5,"c":3},{"p":12,"s":"8","w":6,"c":5},{"p":12,"s":"8","w":7,"c":9},{"p":12,"s":"8","w":8,"c":2},{"p":12,"s":"8","w":9,"c":3},{"p":12,"s":"8","w":10,"c":2},{"p":12,"s":"8","w":11,"c":1},{"p":12,"s":"8","w":12,"c":1}
]},
"data":{"name":"d"},
"columns":3,
"spacing":{"row":52,"column":27},
"bounds":"flush",
"concat":[
{"title":"Maryon age 3, R₀=8","width":238,"height":133,"transform":[{"filter":"datum.p==1"}],
 "encoding":{"x":{"field":"w","type":"quantitative","scale":{"domain":[0.15,18.85],"nice":false,"zero":false},"axis":{"values":[5,10,15],"title":null}},
  "y":{"field":"c","type":"quantitative","scale":{"domain":[-1.3,26.3],"nice":false},"axis":{"values":[0,10,20],"title":"Cases"}}},
 "layer":[{"transform":[{"filter":"datum.s!='o'"}],"mark":{"type":"line","stroke":"#808080","strokeOpacity":0.4,"strokeWidth":4},"encoding":{"detail":{"field":"s"}}},
  {"transform":[{"filter":"datum.s=='o'"}],"mark":{"type":"line","stroke":"black","strokeWidth":4},"encoding":{}}]},
{"title":"Maryon age 4, R₀=63","width":238,"height":133,"transform":[{"filter":"datum.p==2"}],
 "encoding":{"x":{"field":"w","type":"quantitative","scale":{"domain":[3.25,19.75],"nice":false,"zero":false},"axis":{"values":[5,10,15],"title":null}},
  "y":{"field":"c","type":"quantitative","scale":{"domain":[-1.3,26.3],"nice":false},"axis":{"values":[0,10,20],"title":null}}},
 "layer":[{"transform":[{"filter":"datum.s!='o'"}],"mark":{"type":"line","stroke":"#808080","strokeOpacity":0.4,"strokeWidth":4},"encoding":{"detail":{"field":"s"}}},
  {"transform":[{"filter":"datum.s=='o'"}],"mark":{"type":"line","stroke":"black","strokeWidth":4},"encoding":{}}]},
{"title":"Maryon age 6, R₀=27","width":238,"height":133,"transform":[{"filter":"datum.p==3"}],
 "encoding":{"x":{"field":"w","type":"quantitative","scale":{"domain":[2.25,18.75],"nice":false,"zero":false},"axis":{"values":[5,10,15],"title":null}},
  "y":{"field":"c","type":"quantitative","scale":{"domain":[-1.3,26.3],"nice":false},"axis":{"values":[0,10,20],"title":null}}},
 "layer":[{"transform":[{"filter":"datum.s!='o'"}],"mark":{"type":"line","stroke":"#808080","strokeOpacity":0.4,"strokeWidth":4},"encoding":{"detail":{"field":"s"}}},
  {"transform":[{"filter":"datum.s=='o'"}],"mark":{"type":"line","stroke":"black","strokeWidth":4},"encoding":{}}]},
{"title":"Slade age 5, R₀=33","width":238,"height":133,"transform":[{"filter":"datum.p==4"}],
 "encoding":{"x":{"field":"w","type":"quantitative","scale":{"domain":[3.35,17.65],"nice":false,"zero":false},"axis":{"values":[6,9,12,15],"title":null}},
  "y":{"field":"c","type":"quantitative","scale":{"domain":[-1.3,26.3],"nice":false},"axis":{"values":[0,10,20],"title":"Cases"}}},
 "layer":[{"transform":[{"filter":"datum.s!='o'"}],"mark":{"type":"line","stroke":"#808080","strokeOpacity":0.4,"strokeWidth":4},"encoding":{"detail":{"field":"s"}}},
  {"transform":[{"filter":"datum.s=='o'"}],"mark":{"type":"line","stroke":"black","strokeWidth":4},"encoding":{}}]},
{"title":"Ancona age 3, R₀=24","width":238,"height":133,"transform":[{"filter":"datum.p==5"}],
 "encoding":{"x":{"field":"w","type":"quantitative","scale":{"domain":[3.6,12.4],"nice":false,"zero":false},"axis":{"values":[4,6,8,10,12],"title":null}},
  "y":{"field":"c","type":"quantitative","scale":{"domain":[-1.3,26.3],"nice":false},"axis":{"values":[0,10,20],"title":null}}},
 "layer":[{"transform":[{"filter":"datum.s!='o'"}],"mark":{"type":"line","stroke":"#808080","strokeOpacity":0.4,"strokeWidth":4},"encoding":{"detail":{"field":"s"}}},
  {"transform":[{"filter":"datum.s=='o'"}],"mark":{"type":"line","stroke":"black","strokeWidth":4},"encoding":{}}]},
{"title":"Ancona age 4, R₀=49","width":238,"height":133,"transform":[{"filter":"datum.p==6"}],
 "encoding":{"x":{"field":"w","type":"quantitative","scale":{"domain":[5.65,13.35],"nice":false,"zero":false},"axis":{"values":[6,8,10,12],"title":null}},
  "y":{"field":"c","type":"quantitative","scale":{"domain":[-1.3,26.3],"nice":false},"axis":{"values":[0,10,20],"title":null}}},
 "layer":[{"transform":[{"filter":"datum.s!='o'"}],"mark":{"type":"line","stroke":"#808080","strokeOpacity":0.4,"strokeWidth":4},"encoding":{"detail":{"field":"s"}}},
  {"transform":[{"filter":"datum.s=='o'"}],"mark":{"type":"line","stroke":"black","strokeWidth":4},"encoding":{}}]},
{"title":"Ancona age 5, R₀=93","width":238,"height":133,"transform":[{"filter":"datum.p==7"}],
 "encoding":{"x":{"field":"w","type":"quantitative","scale":{"domain":[5.7,12.3],"nice":false,"zero":false},"axis":{"values":[6,8,10,12],"title":null}},
  "y":{"field":"c","type":"quantitative","scale":{"domain":[-1.3,26.3],"nice":false},"axis":{"values":[0,10,20],"title":"Cases"}}},
 "layer":[{"transform":[{"filter":"datum.s!='o'"}],"mark":{"type":"line","stroke":"#808080","strokeOpacity":0.4,"strokeWidth":4},"encoding":{"detail":{"field":"s"}}},
  {"transform":[{"filter":"datum.s=='o'"}],"mark":{"type":"line","stroke":"black","strokeWidth":4},"encoding":{}}]},
{"title":"Timbercroft age 4, R₀=50","width":238,"height":133,"transform":[{"filter":"datum.p==8"}],
 "encoding":{"x":{"field":"w","type":"quantitative","scale":{"domain":[4.7,11.3],"nice":false,"zero":false},"axis":{"values":[6,8,10],"title":null}},
  "y":{"field":"c","type":"quantitative","scale":{"domain":[-1.3,26.3],"nice":false},"axis":{"values":[0,10,20],"title":null}}},
 "layer":[{"transform":[{"filter":"datum.s!='o'"}],"mark":{"type":"line","stroke":"#808080","strokeOpacity":0.4,"strokeWidth":4},"encoding":{"detail":{"field":"s"}}},
  {"transform":[{"filter":"datum.s=='o'"}],"mark":{"type":"line","stroke":"black","strokeWidth":4},"encoding":{}}]},
{"title":"Eglington age 3 to 4, R₀=11","width":238,"height":133,"transform":[{"filter":"datum.p==9"}],
 "encoding":{"x":{"field":"w","type":"quantitative","scale":{"domain":[0.1,19.9],"nice":false,"zero":false},"axis":{"values":[5,10,15],"title":null}},
  "y":{"field":"c","type":"quantitative","scale":{"domain":[-1.3,26.3],"nice":false},"axis":{"values":[0,10,20],"title":null}}},
 "layer":[{"transform":[{"filter":"datum.s!='o'"}],"mark":{"type":"line","stroke":"#808080","strokeOpacity":0.4,"strokeWidth":4},"encoding":{"detail":{"field":"s"}}},
  {"transform":[{"filter":"datum.s=='o'"}],"mark":{"type":"line","stroke":"black","strokeWidth":4},"encoding":{}}]},
{"title":"Purrett age 4 to 5, R₀=48","width":238,"height":133,"transform":[{"filter":"datum.p==10"}],
 "encoding":{"x":{"field":"w","type":"quantitative","scale":{"domain":[3.25,19.75],"nice":false,"zero":false},"axis":{"values":[5,10,15],"title":"Week"}},
  "y":{"field":"c","type":"quantitative","scale":{"domain":[-1.3,26.3],"nice":false},"axis":{"values":[0,10,20],"title":"Cases"}}},
 "layer":[{"transform":[{"filter":"datum.s!='o'"}],"mark":{"type":"line","stroke":"#808080","strokeOpacity":0.4,"strokeWidth":4},"encoding":{"detail":{"field":"s"}}},
  {"transform":[{"filter":"datum.s=='o'"}],"mark":{"type":"line","stroke":"black","strokeWidth":4},"encoding":{}}]},
{"title":"Vicarage age 4 to 5 , R₀=51","width":238,"height":133,"transform":[{"filter":"datum.p==11"}],
 "encoding":{"x":{"field":"w","type":"quantitative","scale":{"domain":[5.45,17.55],"nice":false,"zero":false},"axis":{"values":[7.5,10,12.5,15,17.5],"format":".1f","title":"Week"}},
  "y":{"field":"c","type":"quantitative","scale":{"domain":[-1.3,26.3],"nice":false},"axis":{"values":[0,10,20],"title":null}}},
 "layer":[{"transform":[{"filter":"datum.s!='o'"}],"mark":{"type":"line","stroke":"#808080","strokeOpacity":0.4,"strokeWidth":4},"encoding":{"detail":{"field":"s"}}},
  {"transform":[{"filter":"datum.s=='o'"}],"mark":{"type":"line","stroke":"black","strokeWidth":4},"encoding":{}}]},
{"title":"Vicarage age 3 to 4, R₀=18","width":238,"height":133,"transform":[{"filter":"datum.p==12"}],
 "encoding":{"x":{"field":"w","type":"quantitative","scale":{"domain":[3.35,17.65],"nice":false,"zero":false},"axis":{"values":[6,9,12,15],"title":"Week"}},
  "y":{"field":"c","type":"quantitative","scale":{"domain":[-1.3,26.3],"nice":false},"axis":{"values":[0,10,20],"title":null}}},
 "layer":[{"transform":[{"filter":"datum.s!='o'"}],"mark":{"type":"line","stroke":"#808080","strokeOpacity":0.4,"strokeWidth":4},"encoding":{"detail":{"field":"s"}}},
  {"transform":[{"filter":"datum.s=='o'"}],"mark":{"type":"line","stroke":"black","strokeWidth":4},"encoding":{}}]}
],
"config":{
 "font":"Liberation Sans",
 "view":{"stroke":"#666666","strokeWidth":1},
 "axis":{"domain":false,"grid":false,"labelFont":"Liberation Sans","labelFontSize":14,"labelColor":"#333333","labelPadding":1,"tickColor":"#333333","tickSize":2,"titleFont":"Liberation Sans","titleFontSize":14,"titleFontWeight":"normal","titleColor":"#000000","titlePadding":0},
 "axisX":{"labelPadding":1,"titlePadding":0},
 "title":{"font":"Liberation Sans","fontSize":16,"fontWeight":"normal","anchor":"start","frame":"group","offset":6,"color":"#000000"}
}
}
